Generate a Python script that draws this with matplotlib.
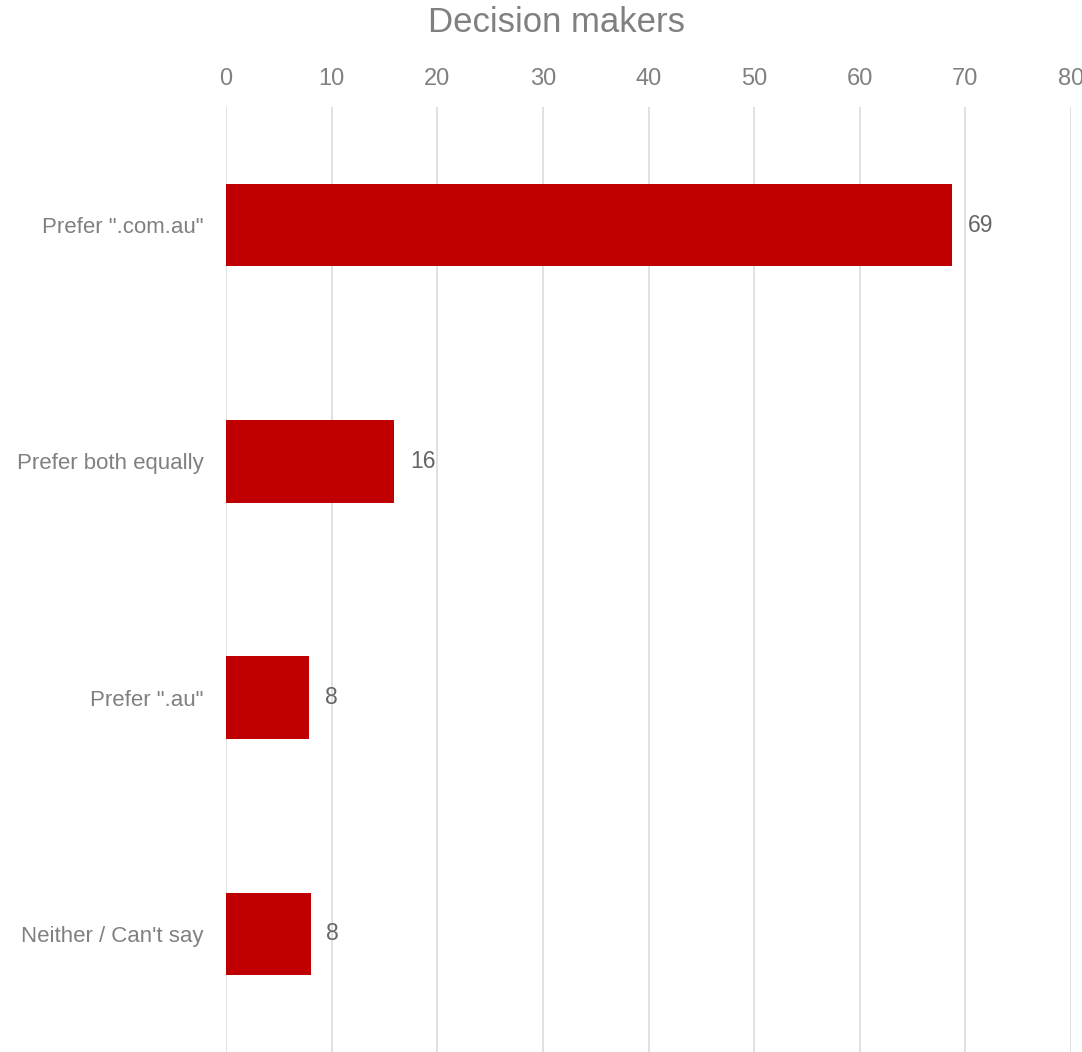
import matplotlib
matplotlib.use("Agg")
import matplotlib.pyplot as plt

# --- data
categories = ['Prefer ".com.au"', "Prefer both equally", 'Prefer ".au"', "Neither / Can't say"]
values = [68.7, 15.9, 7.9, 8.0]
x_ticks = [0, 10, 20, 30, 40, 50, 60, 70, 80]

BAR = "#C00000"
GREY = "#808080"
GRID = "#DEDEDE"

plt.rcParams["font.family"] = ["Liberation Sans", "DejaVu Sans"]

fig = plt.figure(figsize=(10.82, 10.52), dpi=100)
ax = fig.add_axes([226 / 1082, 0.0, (1071 - 226) / 1082, 1 - 107 / 1052])

ypos = list(range(len(categories)))
ax.barh(ypos, values, height=0.35, color=BAR, zorder=3)

for y, v in zip(ypos, values):
    ax.text(v + 1.5, y, f"{v:.0f}", va="center", ha="left",
            fontsize=16.5, color="#666666")

ax.set_xlim(0, 80)
ax.set_ylim(len(categories) - 0.5, -0.5)
ax.set_yticks(ypos)
ax.set_yticklabels(categories, fontsize=16, color=GREY)
ax.set_xticks(x_ticks)
ax.xaxis.tick_top()
ax.tick_params(axis="x", length=0, pad=12, labelsize=17, labelcolor=GREY)
ax.tick_params(axis="y", length=0, pad=16)
ax.grid(axis="x", color=GRID, linewidth=1.3, zorder=0)
for s in ax.spines.values():
    s.set_visible(False)

fig.text(556 / 1082, 1 - 23 / 1052, "Decision makers", ha="center", va="center",
         fontsize=25, color=GREY)

fig.savefig("out.png", dpi=100)
